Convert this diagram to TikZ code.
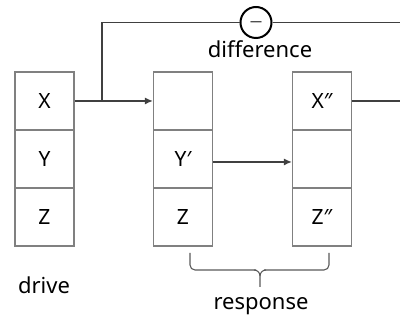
\documentclass[tikz,border=0pt]{standalone}
\usepackage{fontspec}
\setmainfont{Noto Sans}
\usetikzlibrary{arrows.meta}
\begin{document}
\begin{tikzpicture}[x=1pt,y=-1pt,
  cell/.style={draw=black!50,line width=1.3pt,minimum width=59pt,minimum height=58pt,inner sep=0pt,font=\fontsize{21}{23}\selectfont},
  conn/.style={draw=black!75,line width=1.2pt},
  arr/.style={conn,-{Latex[length=8pt,width=7pt]}},
  lbl/.style={font=\fontsize{22}{24}\selectfont,inner sep=0pt}]
\useasboundingbox (0,0) rectangle (400,320);
% left column
\node[cell] (lx) at (44.5,101) {X};
\node[cell] (ly) at (44.5,159) {Y};
\node[cell] (lz) at (44.5,217) {Z};
% middle column
\node[cell] (mx) at (183,101) {};
\node[cell] (my) at (183,159) {Y′};
\node[cell] (mz) at (183,217) {Z};
% right column
\node[cell] (rx) at (322,101) {X″};
\node[cell] (ry) at (322,159) {};
\node[cell] (rz) at (322,217) {Z″};
% difference circle
\node[circle,draw=black,line width=2pt,minimum size=31pt,inner sep=0pt] (c) at (256,22.5) {};
\node[inner sep=0pt,font=\fontsize{12}{12}\selectfont] (m) at (256,23.5) {—};
\coordinate (b) at (102,101);
\coordinate (e1) at (400,22.5);
\coordinate (e2) at (400,101);
\draw[arr] (lx.east) -- (mx.west);
\draw[conn] (b) |- (c.west);
\draw[conn] (c.east) -- (e1);
\draw[conn] (rx.east) -- (e2);
\draw[arr] ([yshift=-3pt]my.east) -- ([yshift=-3pt]ry.west);
\node[lbl] (dl) at (260,49) {difference};
\node[lbl] (dr) at (44,285) {drive};
\node[lbl] (rs) at (261,306) {response};
% brace
\coordinate (bl) at (190,253);
\coordinate (br) at (329,253);
\coordinate (bt) at (260,287);
\draw[draw=black!65,line width=1.1pt,rounded corners=5pt] (bl) -- (190,270) -- (256,270);
\draw[draw=black!65,line width=1.1pt,rounded corners=5pt] (br) -- (329,270) -- (264,270);
\draw[draw=black!65,line width=1.1pt] (254,270) to[out=0,in=90] (bt|-0,276) -- (bt);
\draw[draw=black!65,line width=1.1pt] (266,270) to[out=180,in=90] (bt|-0,276);
\end{tikzpicture}
\end{document}
